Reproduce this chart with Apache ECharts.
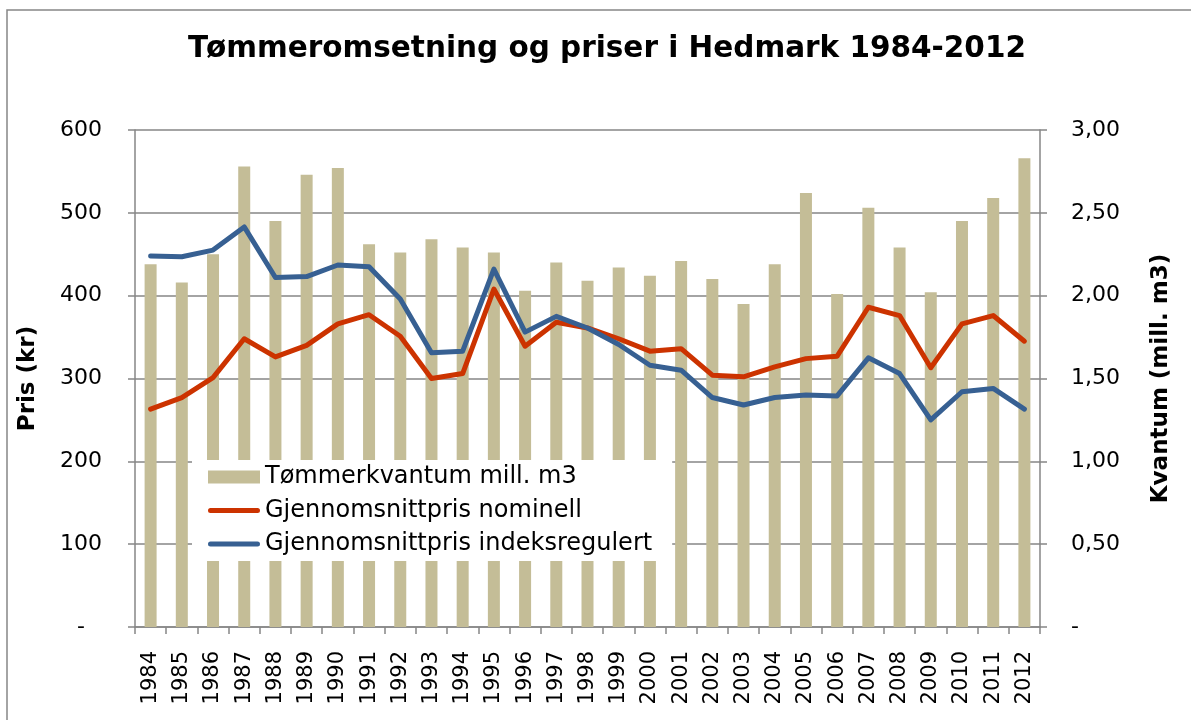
<!DOCTYPE html>
<html>
<head>
<meta charset="utf-8">
<title>Tømmeromsetning og priser i Hedmark 1984-2012</title>
<script src="https://cdn.jsdelivr.net/npm/echarts@6/dist/echarts.min.js"></script>
<style>
  html, body { margin: 0; padding: 0; background: #fff; }
  #chart { width: 1191px; height: 720px; }
</style>
</head>
<body>
<div id="chart"></div>
<script>
// data
const years = ["1984", "1985", "1986", "1987", "1988", "1989", "1990", "1991", "1992", "1993",
  "1994", "1995", "1996", "1997", "1998", "1999", "2000", "2001", "2002", "2003",
  "2004", "2005", "2006", "2007", "2008", "2009", "2010", "2011", "2012"]

// mill. m3 (right axis)
const kvantum = [2.19, 2.08, 2.25, 2.78, 2.45, 2.73, 2.77, 2.31, 2.26, 2.34,
  2.29, 2.26, 2.03, 2.20, 2.09, 2.17, 2.12, 2.21, 2.10, 1.95,
  2.19, 2.62, 2.01, 2.53, 2.29, 2.02, 2.45, 2.59, 2.83]

// kr (left axis)
const nominell = [263, 277, 301, 348, 326, 340, 366, 377, 351, 300,
  306, 408, 339, 368, 361, 348, 333, 336, 304, 302,
  314, 324, 327, 386, 376, 313, 366, 376, 345]

const indeksregulert = [448, 447, 455, 483, 422, 423, 437, 435, 396, 331,
  333, 432, 356, 375, 361, 341, 316, 310, 277, 268,
  277, 280, 279, 325, 306, 250, 284, 288, 263]

const seriesNames = ["Tømmerkvantum mill. m3", "Gjennomsnittpris nominell", "Gjennomsnittpris indeksregulert"]

const FONT = "DejaVu Sans"
const GRAY = "#868686"
// thin line in a 52x13 box, so the legend line icon is 5px high like the reference
const LINE_ICON = "path://M0,0L0.01,0M0,13L0.01,13M2.5,4L49.5,4A2.5,2.5,0,0,1,49.5,9L2.5,9A2.5,2.5,0,0,1,2.5,4Z"

const chart = echarts.init(document.getElementById("chart"), null, { renderer: "canvas" })

const option = {
  backgroundColor: "#fff",
  animation: false,
  textStyle: { fontFamily: FONT },
  graphic: [
    {
      type: "rect",
      shape: { x: 7, y: 10, width: 1300, height: 800 },
      style: { fill: "none", stroke: GRAY, lineWidth: 1.5 },
      silent: true
    },
    {
      type: "text",
      x: 607,
      y: 49,
      style: {
        text: "Tømmeromsetning og priser i Hedmark 1984-2012",
        fill: "#000",
        font: "bold 29.5px 'DejaVu Sans'",
        textAlign: "center",
        textVerticalAlign: "middle"
      }
    }
  ],
  legend: {
    data: [
      { name: seriesNames[0], icon: "rect" },
      { name: seriesNames[1], icon: LINE_ICON },
      { name: seriesNames[2], icon: LINE_ICON }
    ],
    orient: "vertical",
    left: 192,
    top: 460,
    backgroundColor: "#fff",
    padding: [5, 20, 5, 16],
    itemWidth: 52,
    itemHeight: 13,
    itemGap: 9.5,
    selectedMode: false,
    textStyle: { fontFamily: FONT, fontSize: 24, color: "#000", lineHeight: 24 }
  },
  grid: {
    left: 135,
    right: 151,
    top: 130,
    bottom: 93,
    containLabel: false
  },
  xAxis: {
    type: "category",
    data: years,
    axisLine: { lineStyle: { color: GRAY, width: 1.5 } },
    axisTick: { show: true, length: 7, lineStyle: { color: GRAY, width: 1.5 } },
    axisLabel: {
      rotate: 90,
      margin: 24,
      fontFamily: FONT,
      fontSize: 21,
      color: "#000",
      interval: 0
    }
  },
  yAxis: [
    {
      type: "value",
      min: 0,
      max: 600,
      interval: 100,
      name: "Pris (kr)",
      nameLocation: "middle",
      nameRotate: 90,
      nameGap: 95,
      nameTextStyle: { fontFamily: FONT, fontWeight: "bold", fontSize: 23, color: "#000" },
      axisLine: { show: true, lineStyle: { color: GRAY, width: 1.5 } },
      axisTick: { show: true, length: 7, lineStyle: { color: GRAY, width: 1.5 } },
      splitLine: { show: true, lineStyle: { color: GRAY, width: 1.5 } },
      axisLabel: {
        margin: 33,
        fontFamily: FONT,
        fontSize: 22,
        color: "#000",
        formatter: v => (v === 0 ? "{dash|-}" : String(v)),
        rich: { dash: { fontFamily: FONT, fontSize: 22, color: "#000", padding: [0, 17, 0, 0] } }
      }
    },
    {
      type: "value",
      min: 0,
      max: 3,
      interval: 0.5,
      position: "right",
      name: "Kvantum (mill. m3)",
      nameLocation: "middle",
      nameRotate: 90,
      nameGap: 110,
      nameTextStyle: { fontFamily: FONT, fontWeight: "bold", fontSize: 23, color: "#000" },
      axisLine: { show: true, lineStyle: { color: GRAY, width: 1.5 } },
      axisTick: { show: true, length: 7, lineStyle: { color: GRAY, width: 1.5 } },
      splitLine: { show: false },
      axisLabel: {
        margin: 31,
        fontFamily: FONT,
        fontSize: 22,
        color: "#000",
        formatter: v => (v === 0 ? "-" : v.toFixed(2).replace(".", ","))
      }
    }
  ],
  series: [
    {
      name: seriesNames[0],
      type: "bar",
      yAxisIndex: 1,
      barWidth: 12,
      itemStyle: { color: "#C4BD97" },
      data: kvantum
    },
    {
      name: seriesNames[1],
      type: "line",
      yAxisIndex: 0,
      symbol: "none",
      lineStyle: { color: "#CC3300", width: 5, join: "round", cap: "round" },
      itemStyle: { color: "#CC3300" },
      data: nominell
    },
    {
      name: seriesNames[2],
      type: "line",
      yAxisIndex: 0,
      symbol: "none",
      lineStyle: { color: "#376092", width: 5, join: "round", cap: "round" },
      itemStyle: { color: "#376092" },
      data: indeksregulert
    }
  ]
}

chart.setOption(option)
window.addEventListener("resize", () => chart.resize())
</script>
</body>
</html>
